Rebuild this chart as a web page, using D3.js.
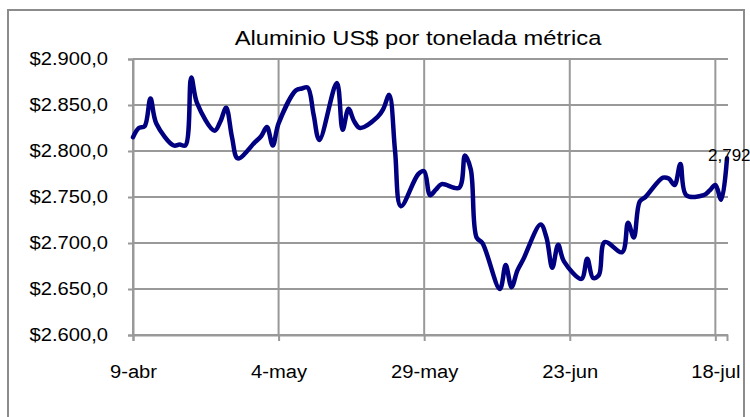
<!DOCTYPE html>
<html>
<head>
<meta charset="utf-8">
<script src="https://cdn.jsdelivr.net/npm/d3@7"></script>
<style>
  body { margin: 0; background: #fff; }
  svg { display: block; font-family: "Liberation Sans", Arial, sans-serif; }
</style>
</head>
<body>
<svg id="chart" width="750" height="417"></svg>
<script>
// aluminium price, one value per trading day
const dates = [
  "2007-04-09", "2007-04-10", "2007-04-11", "2007-04-12", "2007-04-13",
  "2007-04-16", "2007-04-17", "2007-04-18", "2007-04-19", "2007-04-20",
  "2007-04-23", "2007-04-24", "2007-04-25", "2007-04-26", "2007-04-27",
  "2007-04-30", "2007-05-01", "2007-05-02", "2007-05-03", "2007-05-04",
  "2007-05-07", "2007-05-08", "2007-05-09", "2007-05-10", "2007-05-11",
  "2007-05-14", "2007-05-15", "2007-05-16", "2007-05-17", "2007-05-18",
  "2007-05-21", "2007-05-22", "2007-05-23", "2007-05-24", "2007-05-25",
  "2007-05-28", "2007-05-29", "2007-05-30", "2007-05-31", "2007-06-01",
  "2007-06-04", "2007-06-05", "2007-06-06", "2007-06-07", "2007-06-08",
  "2007-06-11", "2007-06-12", "2007-06-13", "2007-06-14", "2007-06-15",
  "2007-06-18", "2007-06-19", "2007-06-20", "2007-06-21", "2007-06-22",
  "2007-06-25", "2007-06-26", "2007-06-27", "2007-06-28", "2007-06-29",
  "2007-07-02", "2007-07-03", "2007-07-04", "2007-07-05", "2007-07-06",
  "2007-07-09", "2007-07-10", "2007-07-11", "2007-07-12", "2007-07-13",
  "2007-07-16", "2007-07-17", "2007-07-18", "2007-07-19", "2007-07-20"
];
const prices = [
  2815, 2825, 2827, 2857, 2830,
  2806, 2807, 2806, 2880, 2852,
  2822, 2832, 2847, 2815, 2792,
  2810, 2816, 2826, 2806, 2830,
  2866, 2868, 2869, 2840, 2812,
  2874, 2823, 2846, 2832, 2825,
  2837, 2846, 2861, 2800, 2740,
  2775, 2778, 2752, 2758, 2764,
  2760, 2795, 2780, 2706, 2700,
  2650, 2676, 2652, 2670, 2682,
  2720, 2706, 2673, 2698, 2680,
  2661, 2683, 2662, 2665, 2701,
  2690, 2722, 2706, 2745, 2750,
  2771, 2770, 2763, 2786, 2752,
  2752, 2757, 2763, 2747, 2792
];
const xTickDates = ["2007-04-09", "2007-05-04", "2007-05-29", "2007-06-23", "2007-07-18"];
const xTickLabels = ["9-abr", "4-may", "29-may", "23-jun", "18-jul"];
const yTicks = [2600, 2650, 2700, 2750, 2800, 2850, 2900];
const title = "Aluminio US$ por tonelada métrica";

const parse = d3.timeParse("%Y-%m-%d");
const data = dates.map((d, i) => ({ date: parse(d), price: prices[i] }));

const esLocale = d3.formatLocale({
  decimal: ",",
  thousands: ".",
  grouping: [3],
  currency: ["$", ""]
});
const yFormat = esLocale.format("$,.1f");
const labelFormat = d3.format(",");

const svg = d3.select("#chart");
const plot = { left: 133, right: 727, top: 59, bottom: 335 };
const gridColor = "#999";

const x = d3.scaleTime()
  .domain([parse("2007-04-09"), parse("2007-07-20")])
  .range([plot.left, plot.right]);
const y = d3.scaleLinear().domain([2600, 2900]).range([plot.bottom, plot.top]);

// the old chart's lettering is a bit wider than the font
function widen(sel, factor) {
  sel.each(function () {
    const len = this.getComputedTextLength();
    d3.select(this)
      .attr("textLength", len * factor)
      .attr("lengthAdjust", "spacingAndGlyphs");
  });
}

// outer frame
svg.append("rect")
  .attr("x", 8).attr("y", 10)
  .attr("width", 736).attr("height", 420)
  .attr("fill", "none")
  .attr("stroke", "#8c8c8c")
  .attr("stroke-width", 2);

svg.append("text")
  .attr("x", 418).attr("y", 45)
  .attr("text-anchor", "middle")
  .attr("font-size", 21)
  .attr("fill", "#000")
  .text(title)
  .call(widen, 1.13);

// gridlines
svg.append("g").selectAll("line")
  .data(yTicks)
  .join("line")
  .attr("x1", plot.left).attr("x2", plot.right + 1)
  .attr("y1", (d) => y(d)).attr("y2", (d) => y(d))
  .attr("stroke", gridColor).attr("stroke-width", 2);

svg.append("g").selectAll("line")
  .data(xTickDates.map(parse))
  .join("line")
  .attr("x1", (d) => x(d)).attr("x2", (d) => x(d))
  .attr("y1", plot.top).attr("y2", plot.bottom)
  .attr("stroke", gridColor).attr("stroke-width", 2);

// axes
const yAxis = svg.append("g")
  .attr("transform", `translate(${plot.left},0)`)
  .call(d3.axisLeft(y).tickValues(yTicks).tickFormat(yFormat).tickSize(5).tickPadding(20));

const xAxis = svg.append("g")
  .attr("transform", `translate(0,${plot.bottom})`)
  .call(d3.axisBottom(x)
    .tickValues(xTickDates.map(parse))
    .tickFormat((d, i) => xTickLabels[i])
    .tickSize(6).tickPadding(24));

[yAxis, xAxis].forEach((g) => {
  g.attr("font-family", null).attr("font-size", 18);
  g.selectAll(".domain, .tick line").attr("stroke", gridColor).attr("stroke-width", 2);
  g.selectAll("text").attr("fill", "#000").call(widen, 1.12);
});

// price line
const line = d3.line()
  .x((d) => x(d.date))
  .y((d) => y(d.price))
  .curve(d3.curveCatmullRom.alpha(0.5));

svg.append("path")
  .datum(data)
  .attr("d", line)
  .attr("fill", "none")
  .attr("stroke", "#000080")
  .attr("stroke-width", 4.5)
  .attr("stroke-linejoin", "round")
  .attr("stroke-linecap", "round");

const last = data[data.length - 1];
svg.append("text")
  .attr("x", x(last.date) - 19)
  .attr("y", y(last.price) + 3)
  .attr("font-size", 17)
  .attr("fill", "#000")
  .text(labelFormat(last.price));
</script>
</body>
</html>
